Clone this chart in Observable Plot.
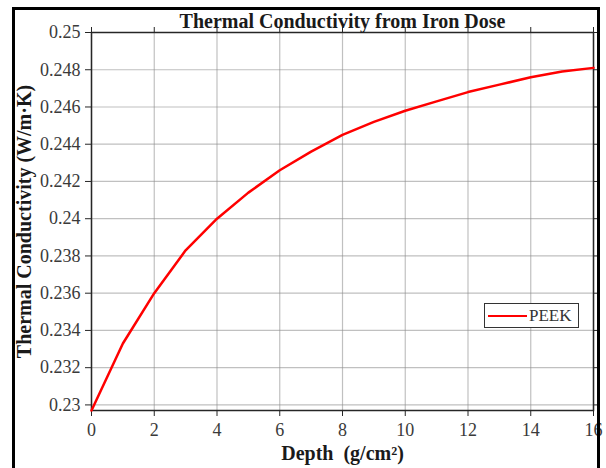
<!DOCTYPE html>
<html>
<head>
<meta charset="utf-8">
<script src="https://cdn.jsdelivr.net/npm/d3@7"></script>
<script src="https://cdn.jsdelivr.net/npm/@observablehq/plot@0.6"></script>
<style>
  html, body { margin: 0; padding: 0; background: #fff; }
  #wrap { position: relative; width: 606px; height: 468px; overflow: hidden; font-family: "Liberation Serif", "Times New Roman", serif; }
  #border { position: absolute; left: 12px; top: 7px; width: 588px; height: 480px; border: 3px solid #000; box-sizing: border-box; pointer-events: none; }
  #legend { position: absolute; left: 484px; top: 303px; width: 95px; height: 25px; box-sizing: border-box; border: 1.5px solid #333; background: #fff; display: flex; align-items: center; }
  #legend .sw { width: 39px; height: 0; border-top: 2.5px solid #ff0000; margin-left: 3px; margin-right: 2px; }
  #legend .lb { font-size: 17px; color: #333; }
</style>
</head>
<body>
<div id="wrap">
  <div id="chart"></div>
  <div id="border"></div>
  <div id="legend"><div class="sw"></div><div class="lb" id="legendLabel"></div></div>
</div>
<script>
const title = "Thermal Conductivity from Iron Dose";
const xLabel = "Depth  (g/cm²)";
const yLabel = "Thermal Conductivity (W/m·K)";
const seriesName = "PEEK";
const depth = [0, 1, 2, 3, 4, 5, 6, 7, 8, 9, 10, 11, 12, 13, 14, 15, 16];
const conductivity = [0.2297, 0.2333, 0.2360, 0.2383, 0.2400, 0.2414, 0.2426, 0.2436, 0.2445, 0.2452, 0.2458, 0.2463, 0.2468, 0.2472, 0.2476, 0.2479, 0.2481];
const xTicks = [0, 2, 4, 6, 8, 10, 12, 14, 16];
const yTicks = [0.23, 0.232, 0.234, 0.236, 0.238, 0.24, 0.242, 0.244, 0.246, 0.248, 0.25];

const data = depth.map((d, i) => ({depth: d, k: conductivity[i]}));
const fmt = v => String(+v.toFixed(3));
const axisColor = "#262626";
const tickText = "#3a3a3a";
const serif = "Liberation Serif, Times New Roman, serif";

const chart = Plot.plot({
  width: 606,
  height: 468,
  marginLeft: 91,
  marginRight: 13,
  marginTop: 32,
  marginBottom: 58,
  style: {fontFamily: serif, fontSize: "16px", color: axisColor, background: "transparent"},
  x: {domain: [0, 16], label: null},
  y: {domain: [0.2297, 0.25], label: null},
  marks: [
    Plot.gridX(xTicks, {stroke: "#8c8c8c", strokeOpacity: 0.55, strokeWidth: 1.2}),
    Plot.gridY(yTicks, {stroke: "#8c8c8c", strokeOpacity: 0.55, strokeWidth: 1.2}),
    Plot.axisX(xTicks, {anchor: "bottom", tickSize: 6, tickPadding: 7, tickFormat: d => String(d), stroke: axisColor, fill: tickText, fontSize: 18, fontFamily: serif}),
    Plot.axisX(xTicks, {anchor: "top", tickSize: 6, tickFormat: () => "", stroke: axisColor}),
    Plot.axisY(yTicks, {anchor: "left", tickSize: 6, tickPadding: 5, tickFormat: fmt, stroke: axisColor, fill: tickText, fontSize: 18, fontFamily: serif}),
    Plot.axisY(yTicks, {anchor: "right", tickSize: 6, tickFormat: () => "", stroke: axisColor}),
    Plot.frame({stroke: axisColor, strokeWidth: 1.5}),
    Plot.line(data, {x: "depth", y: "k", stroke: "#ff0000", strokeWidth: 2.5}),
    Plot.text([title], {frameAnchor: "top", dy: -19, fontWeight: "bold", fontSize: 20, fill: "#1a1a1a", fontFamily: serif}),
    Plot.text([xLabel], {frameAnchor: "bottom", dy: 49, fontWeight: "bold", fontSize: 20, fill: "#1a1a1a", fontFamily: serif}),
    Plot.text([yLabel], {frameAnchor: "left", dx: -67, rotate: -90, textAnchor: "middle", fontWeight: "bold", fontSize: 20, fill: "#1a1a1a", fontFamily: serif})
  ]
});
document.getElementById("chart").appendChild(chart);
document.getElementById("legendLabel").textContent = seriesName;
</script>
</body>
</html>
